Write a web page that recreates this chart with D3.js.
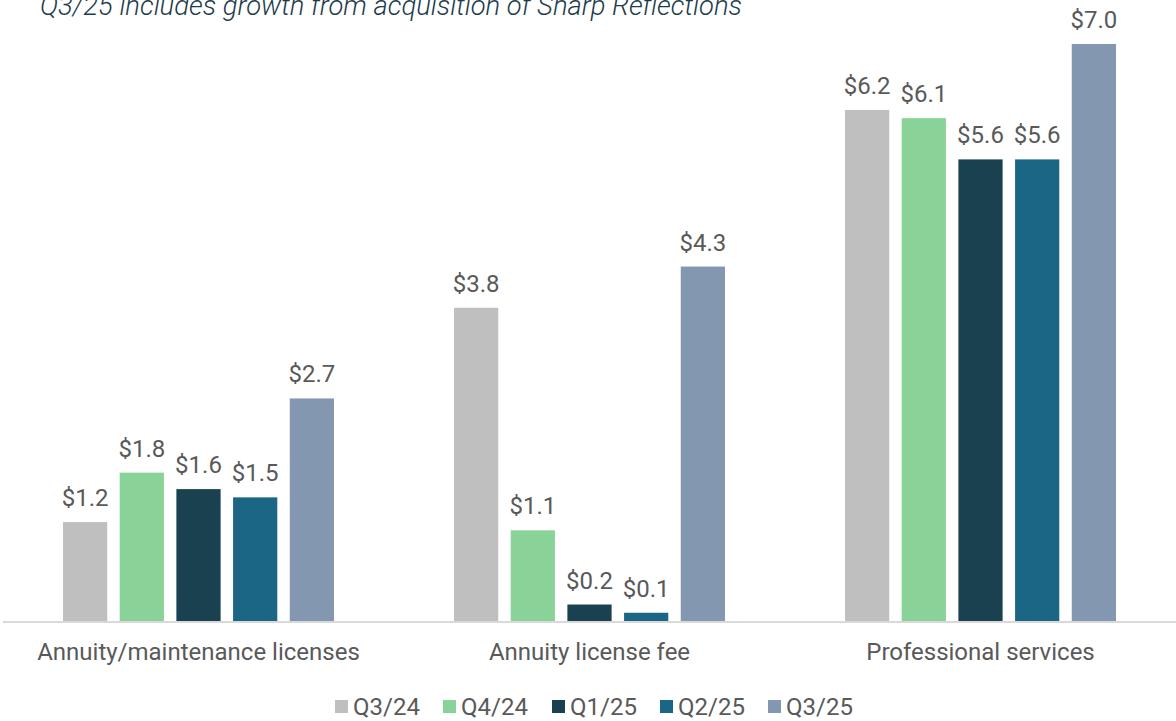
<!DOCTYPE html>
<meta charset="utf-8">
<style>
body { margin: 0; background: #fff; font-family: Roboto, sans-serif; }
.val { font-size: 24px; fill: #595959; text-anchor: middle; }
.cat { font-size: 24px; fill: #595959; text-anchor: middle; }
.leg { font-size: 24px; fill: #595959; }
</style>
<body>
<script src="https://d3js.org/d3.v7.min.js"></script>
<script>
var categories = ["Annuity/maintenance licenses", "Annuity license fee", "Professional services"];
var quarters = ["Q3/24", "Q4/24", "Q1/25", "Q2/25", "Q3/25"];
var colors = ["#bfbfbf", "#89d398", "#1a414f", "#1b6685", "#8497b0"];
var q3_24 = [1.2, 3.8, 6.2];
var q4_24 = [1.8, 1.1, 6.1];
var q1_25 = [1.6, 0.2, 5.6];
var q2_25 = [1.5, 0.1, 5.6];
var q3_25 = [2.7, 4.3, 7.0];
var series = [q3_24, q4_24, q1_25, q2_25, q3_25];

var width = 1176, height = 721, baseY = 621;

var svg = d3.select("body").append("svg")
    .attr("width", width)
    .attr("height", height);

var x0 = d3.scaleBand()
    .domain(categories)
    .range([3, 1176])
    .paddingInner(0.307)
    .paddingOuter(0.1535);

var x1 = d3.scaleBand()
    .domain(quarters)
    .range([0, x0.bandwidth()])
    .paddingInner(0.22);

var y = d3.scaleLinear()
    .domain([0, 7])
    .range([baseY, 44]);

var color = d3.scaleOrdinal().domain(quarters).range(colors);

// subtitle, cut off at the top like the slide
svg.append("text")
    .attr("x", 40)
    .attr("y", 15)
    .style("font-size", "27.4px")
    .style("font-style", "italic")
    .style("font-weight", 300)
    .style("fill", "#1d3c4b")
    .text("Q3/25 includes growth from acquisition of Sharp Reflections");

var rows = [];
categories.forEach(function(c, i) {
  quarters.forEach(function(q, j) {
    rows.push({cat: c, q: q, v: series[j][i]});
  });
});

var bars = svg.selectAll(".bar")
    .data(rows)
  .enter().append("g")
    .attr("transform", function(d) { return "translate(" + (x0(d.cat) + x1(d.q)) + ",0)"; });

bars.append("rect")
    .attr("y", function(d) { return y(d.v); })
    .attr("width", x1.bandwidth())
    .attr("height", function(d) { return baseY - y(d.v); })
    .style("fill", function(d) { return color(d.q); });

bars.append("text")
    .attr("class", "val")
    .attr("x", x1.bandwidth() / 2)
    .attr("y", function(d) { return y(d.v) - 16; })
    .text(function(d) { return "$" + d.v.toFixed(1); });

// baseline
svg.append("line")
    .attr("x1", 3).attr("x2", width)
    .attr("y1", baseY + 1).attr("y2", baseY + 1)
    .style("stroke", "#d9d9d9")
    .style("stroke-width", 2);

svg.selectAll(".cat")
    .data(categories)
  .enter().append("text")
    .attr("class", "cat")
    .attr("x", function(d) { return x0(d) + x0.bandwidth() / 2; })
    .attr("y", 660)
    .text(function(d) { return d; });

// legend
var legX = [335, 443, 552, 660, 768];
var legend = svg.selectAll(".legend")
    .data(quarters)
  .enter().append("g")
    .attr("transform", function(d, i) { return "translate(" + legX[i] + ",700)"; });

legend.append("rect")
    .attr("width", 13)
    .attr("height", 13)
    .style("fill", color);

legend.append("text")
    .attr("class", "leg")
    .attr("x", 18)
    .attr("y", 15)
    .text(function(d) { return d; });
</script>
</body>
